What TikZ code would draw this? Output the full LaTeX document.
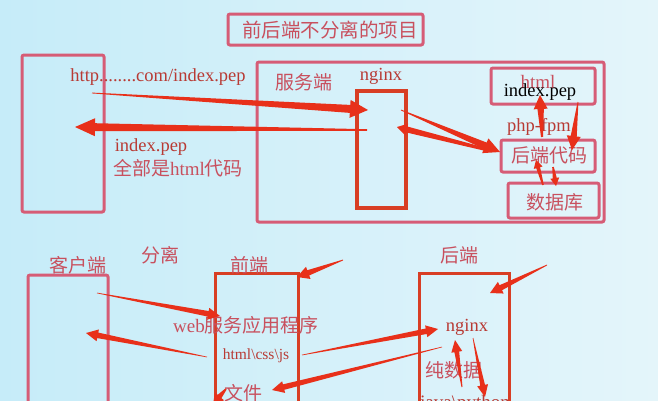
\documentclass[tikz,border=0pt]{standalone}
\usepackage{fontspec}
\setmainfont{Liberation Serif}
\newfontfamily\cjk{Noto Sans CJK SC}
\usetikzlibrary{calc}
\definecolor{bgL}{RGB}{198,236,249}
\definecolor{bgR}{RGB}{228,245,250}
\definecolor{pinkbox}{RGB}{214,92,118}
\definecolor{redbox}{RGB}{216,62,36}
\definecolor{arrowred}{RGB}{232,48,26}
\definecolor{txtred}{RGB}{184,58,52}
\definecolor{txtpink}{RGB}{200,80,94}
\newcommand\taperarrow[6]{%
  \coordinate (tH) at ($(#2)!#6pt!(#1)$);
  \fill[arrowred] ($(#1)!#3pt!90:(#2)$) -- ($(tH)!#4pt!90:(#2)$) -- ($(tH)!#5pt!90:(#2)$) -- (#2)
    -- ($(tH)!#5pt!-90:(#2)$) -- ($(tH)!#4pt!-90:(#2)$) -- ($(#1)!#3pt!-90:(#2)$) -- cycle;
}
\tikzset{
  pbox/.style={draw=pinkbox, line width=3pt, rounded corners=2pt, inner sep=0pt, outer sep=0pt, anchor=north west},
  rbox/.style={draw=redbox, line width=3pt, inner sep=0pt, outer sep=0pt, anchor=north west},
  cn/.style={font=\cjk\fontsize{19}{19}\selectfont, text=txtpink, inner sep=0pt},
  en/.style={font=\fontsize{18.5}{18.5}\selectfont, text=txtred, inner sep=0pt},
}
\begin{document}
\begin{tikzpicture}[x=1pt,y=-1pt]
\useasboundingbox (0,0) rectangle (658,400);
\clip (0,0) rectangle (658,400);
\shade[left color=bgL, right color=bgR] (0,0) rectangle (658,400);

% ---------- top: not separated ----------
\node[pbox, minimum width=195pt, minimum height=31pt] (titlebox) at (228,14) {};
\node[cn, font=\cjk\fontsize{19.5}{19.5}\selectfont] (title) at (330,30) {前后端不分离的项目};

\node[pbox, minimum width=82pt, minimum height=157pt] (client) at (22,55) {};
\node[pbox, minimum width=347pt, minimum height=160pt] (server) at (257,62) {};
\node[rbox, line width=3.5pt, minimum width=49pt, minimum height=117pt] (nginxbox) at (357,91) {};
\node[pbox, minimum width=104pt, minimum height=36pt] (htmlbox) at (491,68) {};
\node[pbox, minimum width=94pt, minimum height=32pt] (codebox) at (501,140) {};
\node[pbox, minimum width=91pt, minimum height=35pt] (dbbox) at (508,183) {};

\node[en] (url) at (158,77) {http........com/index.pep};
\node[cn] (serverlbl) at (304,82) {服务端};
\node[en] (nginxlbl) at (381,76) {nginx};
\node[en, text=txtpink, font=\fontsize{19}{19}\selectfont] (htmllbl) at (538,82) {html};
\node[en, text=black] (indexblk) at (540,92) {index.pep};
\node[en] (fpm) at (539,127) {php-fpm};
\node[cn] (codelbl) at (549,155) {后端代码};
\node[cn] (dblbl) at (555,202) {数据库};
\node[en] (indexpep) at (151,147) {index.pep};
\node[cn] (allhtml) at (178,168) {全部是{\fontspec{Liberation Serif}html}代码};

% ---------- bottom: separated ----------
\node[pbox, minimum width=80pt, minimum height=160pt] (client2) at (28,275) {};
\node[rbox, minimum width=83pt, minimum height=160pt] (front) at (215,273) {};
\node[rbox, minimum width=90pt, minimum height=160pt] (back) at (419,273) {};

\node[cn] (clientlbl) at (78,265) {客户端};
\node[cn] (seplbl) at (160,255) {分离};
\node[cn] (frontlbl) at (249,265) {前端};
\node[cn] (backlbl) at (459,255) {后端};
\node[cn] (websvc) at (246,325) {{\fontspec{Liberation Serif}web}服务应用程序};
\node[en, font=\fontsize{15.5}{15.5}\selectfont] (hcj) at (256,356) {html\textbackslash css\textbackslash js};
\node[cn] (files) at (243,393) {文件};
\node[en] (nginx2) at (467,327) {nginx};
\node[cn] (puredata) at (454,370) {纯数据};
\node[en, font=\fontsize{19}{19}\selectfont] (javapy) at (465,404) {java\textbackslash python};

% ---------- arrow end points ----------
\coordinate (a1s) at (92,93);   \coordinate (a1e) at (368,110);
\coordinate (a2s) at (367,130); \coordinate (a2e) at (75,127);
\coordinate (a3s) at (401,110); \coordinate (a3e) at (500,152);
\coordinate (a4s) at (488,150); \coordinate (a4e) at (397,127);
\coordinate (a5s) at (542,137); \coordinate (a5e) at (540,95);
\coordinate (a6s) at (578,102); \coordinate (a6e) at (572,150);
\coordinate (a7s) at (543,185); \coordinate (a7e) at (536,160);
\coordinate (a8s) at (553,167); \coordinate (a8e) at (556,186);

\coordinate (b1s) at (343,260); \coordinate (b1e) at (297,277);
\coordinate (b2s) at (547,265); \coordinate (b2e) at (490,293);
\coordinate (b3s) at (97,293);  \coordinate (b3e) at (220,316);
\coordinate (b4s) at (207,357); \coordinate (b4e) at (86,333);
\coordinate (b5s) at (302,355); \coordinate (b5e) at (438,329);
\coordinate (b6s) at (442,347); \coordinate (b6e) at (272,390);
\coordinate (b7s) at (462,387); \coordinate (b7e) at (455,340);
\coordinate (b8s) at (473,338); \coordinate (b8e) at (485,397);
\coordinate (b9s) at (226,389); \coordinate (b9e) at (213,404);

\taperarrow{a1s}{a1e}{0.4}{4}{9}{18}
\taperarrow{a2s}{a2e}{0.8}{4}{9}{20}
\taperarrow{a3s}{a3e}{0.4}{3.5}{8}{16}
\taperarrow{a4s}{a4e}{1.5}{3}{6}{10}
\taperarrow{a5s}{a5e}{1}{3.2}{7}{14}
\taperarrow{a6s}{a6e}{0.4}{3}{7}{14}
\taperarrow{a7s}{a7e}{0.8}{2}{4.5}{8}
\taperarrow{a8s}{a8e}{0.8}{2}{4.5}{8}

\taperarrow{b1s}{b1e}{0.4}{2.8}{6.5}{12}
\taperarrow{b2s}{b2e}{0.4}{2.8}{6.5}{12}
\taperarrow{b3s}{b3e}{0.3}{2.8}{6}{12}
\taperarrow{b4s}{b4e}{0.3}{2.8}{6}{12}
\taperarrow{b5s}{b5e}{0.3}{2.8}{6}{12}
\taperarrow{b6s}{b6e}{0.3}{2.8}{6}{12}
\taperarrow{b7s}{b7e}{0.5}{2.4}{5.5}{12}
\taperarrow{b8s}{b8e}{0.3}{2.4}{5.5}{12}
\taperarrow{b9s}{b9e}{0.8}{2.5}{6}{10}
\end{tikzpicture}
\end{document}
